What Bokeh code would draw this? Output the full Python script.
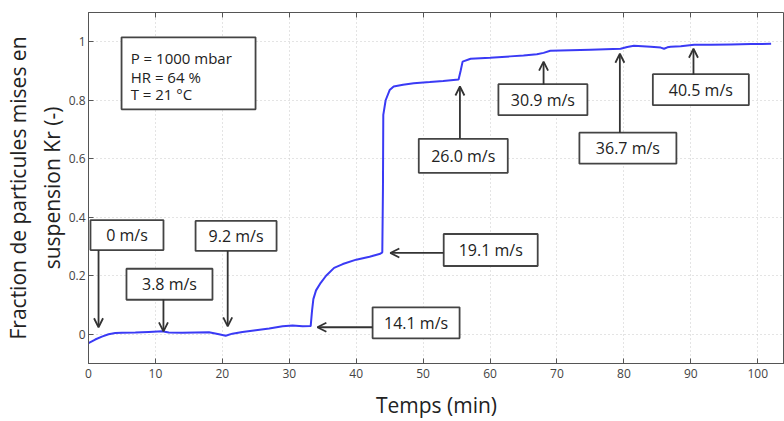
from bokeh.plotting import figure
from bokeh.models import (Range1d, FixedTicker, LinearAxis, Arrow, OpenHead,
                          ColumnDataSource)
from bokeh.core.properties import value
from bokeh.embed import file_html
from bokeh.resources import INLINE

# ---- data ----
t_min = [0, 1, 2, 3, 4, 5, 7, 9, 11, 12, 14, 16, 18, 19.5, 20.5, 21.5, 23, 25, 27, 29,
         30.5, 32, 33.2, 33.4, 33.6, 34, 34.7, 35.5, 36.7, 38, 40, 42, 43.6, 43.9, 44.0,
         44.05, 44.4, 45, 45.6, 47, 48.6, 51, 53, 55.3, 55.6, 55.9, 57.1, 60, 63, 65,
         67, 68, 69, 72, 75, 79.5, 80.5, 81.5, 84, 85.5, 86, 86.5, 87, 88.5, 90.5, 93,
         96, 99, 102]
kr = [-0.03, -0.018, -0.008, 0.0, 0.004, 0.005, 0.006, 0.008, 0.01, 0.006, 0.005, 0.006,
      0.007, 0.0, -0.005, 0.002, 0.008, 0.014, 0.02, 0.027, 0.03, 0.027, 0.028, 0.08,
      0.12, 0.15, 0.176, 0.2, 0.227, 0.24, 0.255, 0.265, 0.275, 0.28, 0.5, 0.75, 0.8,
      0.835, 0.847, 0.853, 0.858, 0.862, 0.866, 0.871, 0.9, 0.932, 0.942, 0.945, 0.95,
      0.953, 0.957, 0.962, 0.969, 0.971, 0.973, 0.976, 0.982, 0.986, 0.983, 0.98, 0.976,
      0.981, 0.983, 0.985, 0.99, 0.99, 0.991, 0.992, 0.993]

x_ticks = [0, 10, 20, 30, 40, 50, 60, 70, 80, 90, 100]
x_tick_labels = ["0", "10", "20", "30", "40", "50", "60", "70", "80", "90", "100"]
y_ticks = [0, 0.2, 0.4, 0.6, 0.8, 1]
y_tick_labels = ["0", "0.2", "0.4", "0.6", "0.8", "1"]

# annotations: label, box centre (t, kr), arrow start, arrow end
ann_labels = ["0 m/s", "3.8 m/s", "9.2 m/s", "14.1 m/s", "19.1 m/s",
              "26.0 m/s", "30.9 m/s", "36.7 m/s", "40.5 m/s"]
ann_box_t = [5.75, 12.1, 22.05, 48.95, 60.1, 56.0, 67.9, 80.6, 91.5]
ann_box_kr = [0.339, 0.171, 0.336, 0.039, 0.288, 0.61, 0.802, 0.636, 0.836]
ann_start_t = [1.5, 11.2, 20.8, 42.45, 53.06, 55.5, 68.0, 79.4, 90.4]
ann_start_kr = [0.288, 0.119, 0.285, 0.024, 0.278, 0.668, 0.854, 0.688, 0.888]
ann_end_t = [1.5, 11.2, 20.8, 34.2, 45.1, 55.5, 68.0, 79.4, 90.4]
ann_end_kr = [0.024, 0.01, 0.027, 0.024, 0.278, 0.847, 0.932, 0.959, 0.976]

info_lines = ["P = 1000 mbar", "HR = 64 %", "T = 21 \u00b0C"]
info_line_kr = [0.946, 0.881, 0.820]
info_text_t = 6.3
info_box_t, info_box_kr = 14.95, 0.892

# ---- styling sizes (screen px) ----
ann_box_w = [73, 86, 81, 87, 94, 89, 89, 97, 96]
ann_box_h = [30, 31, 30, 31, 32, 34, 31, 31, 31]

FONT = "Open Sans"

p = figure(width=784, height=421, output_backend="svg", toolbar_location=None,
           x_range=Range1d(0, 104.0), y_range=Range1d(-0.1, 1.1),
           min_border_left=88, min_border_right=0, min_border_top=12,
           min_border_bottom=58)
p.background_fill_color = "white"
p.border_fill_color = "white"
p.outline_line_color = "#555555"
p.outline_line_width = 1

p.xaxis.ticker = FixedTicker(ticks=x_ticks)
p.yaxis.ticker = FixedTicker(ticks=y_ticks)
p.xaxis.major_label_overrides = dict(zip(x_ticks, x_tick_labels))
p.yaxis.major_label_overrides = dict(zip(y_ticks, y_tick_labels))
for ax in (p.xaxis, p.yaxis):
    ax.major_tick_in = 5
    ax.major_tick_out = 0
    ax.minor_tick_in = 0
    ax.minor_tick_out = 0
    ax.axis_line_color = "#555555"
    ax.major_tick_line_color = "#555555"
    ax.major_label_text_font = FONT
    ax.major_label_text_font_size = "12px"
    ax.major_label_text_color = "#444444"
    ax.axis_label_text_font = FONT
    ax.axis_label_text_font_size = "21px"
    ax.axis_label_text_font_style = "normal"
    ax.axis_label_text_color = "#222222"

p.xaxis.major_label_standoff = 5
p.yaxis.major_label_standoff = 3
p.xaxis.axis_label = "Temps (min)"
p.xaxis.axis_label_standoff = 10
p.yaxis.axis_label = "Fraction de particules mises en\nsuspension Kr (-)"
p.yaxis.axis_label_standoff = 0

top = LinearAxis(ticker=FixedTicker(ticks=x_ticks), major_label_text_font_size="0px",
                 major_tick_in=5, major_tick_out=0, minor_tick_in=0, minor_tick_out=0,
                 axis_line_color=None, major_tick_line_color="#555555")
p.add_layout(top, "above")

p.xgrid.ticker = FixedTicker(ticks=x_ticks)
p.ygrid.ticker = FixedTicker(ticks=y_ticks)
p.grid.grid_line_color = "#c8c8c8"
p.grid.grid_line_dash = "1 3"
p.grid.grid_line_width = 1

p.line(t_min, kr, line_color="#3a3af5", line_width=2)

# info box
p.rect(x=[info_box_t], y=[info_box_kr], width=134, height=72, width_units="screen",
       height_units="screen", fill_color="white", line_color="#444444", line_width=1.8)
p.text(x=[info_text_t] * len(info_lines), y=info_line_kr, text=info_lines,
       text_font=value(FONT), text_font_size="15px", text_color="#222222",
       text_baseline="middle", text_align="left")

# arrows
asrc = ColumnDataSource(dict(x0=ann_start_t, y0=ann_start_kr, x1=ann_end_t, y1=ann_end_kr))
p.add_layout(Arrow(source=asrc, x_start="x0", y_start="y0", x_end="x1", y_end="y1",
                   line_color="#333333", line_width=1.8,
                   end=OpenHead(size=9, line_color="#333333", line_width=1.8)))

# annotation boxes
p.rect(x=ann_box_t, y=ann_box_kr, width=ann_box_w, height=ann_box_h,
       width_units="screen", height_units="screen", fill_color="white",
       line_color="#444444", line_width=1.8)
p.text(x=ann_box_t, y=ann_box_kr, text=ann_labels, text_font=value(FONT),
       text_font_size="16px", text_color="#222222", text_align="center",
       text_baseline="middle")

open("out.html", "w").write(file_html(p, INLINE))
